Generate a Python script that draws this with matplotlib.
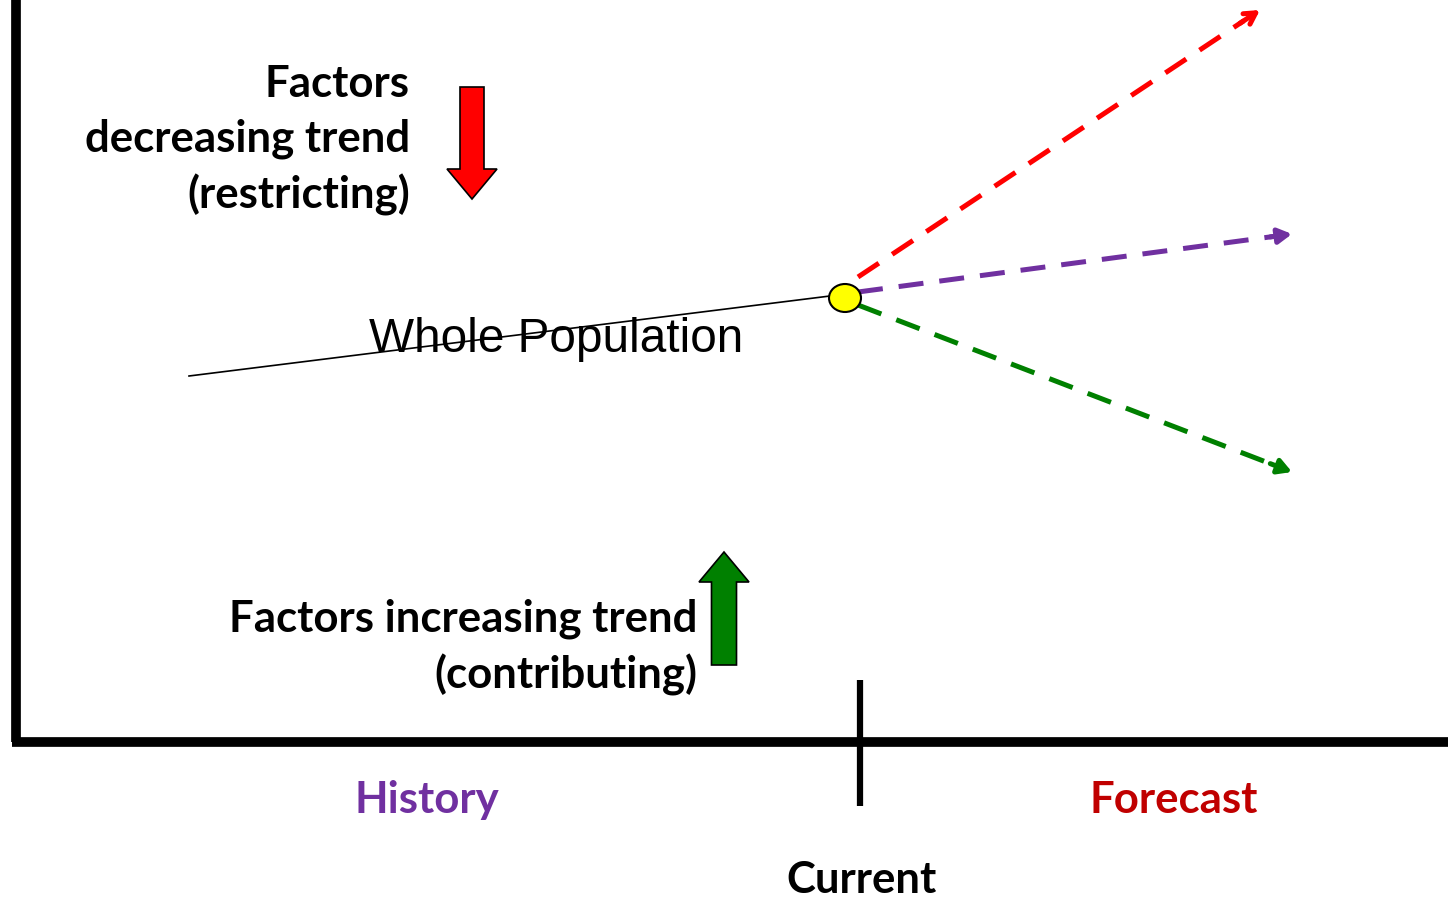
import matplotlib.pyplot as plt
from matplotlib.patches import Ellipse, FancyArrow

# canvas in pixel units (y downwards)
W, H = 1448, 898

# trend lines
hist_x = [189, 830]
hist_y = [376, 296]
current_pt = (845, 298)
fc_names = ['up', 'flat', 'down']
fc_start_x = [858, 858, 858]
fc_start_y = [277, 292, 305]
fc_end_x = [1260, 1292, 1292]
fc_end_y = [10, 234, 472]
fc_colors = ['#FF0000', '#7030A0', '#008000']
fc_heads = ['->', '-|>', '-|>']

fig = plt.figure(figsize=(W / 100, H / 100), dpi=100)
ax = fig.add_axes([0, 0, 1, 1])
ax.set_xlim(0, W)
ax.set_ylim(H, 0)
ax.axis('off')

bold = dict(family=['Lato', 'DejaVu Sans'], weight='bold', fontsize=31.5)

# axes of the diagram
ax.plot([16, 16], [0, 742], color='black', lw=7, solid_capstyle='butt')
ax.plot([12, W], [742, 742], color='black', lw=7, solid_capstyle='butt')
ax.plot([860, 860], [680, 806], color='black', lw=4.5, solid_capstyle='butt')

# history line
ax.plot(hist_x, hist_y, color='black', lw=1.2)

# forecasts
for i in range(3):
    x0, y0, x1, y1 = fc_start_x[i], fc_start_y[i], fc_end_x[i], fc_end_y[i]
    f = 0.96
    xm, ym = x0 + (x1 - x0) * f, y0 + (y1 - y0) * f
    ax.plot([x0, xm], [y0, ym], color=fc_colors[i], lw=3.6, ls=(0, (5, 3.2)))
    ax.annotate('', xy=(x1, y1), xytext=(xm - (x1 - x0) * 0.01, ym - (y1 - y0) * 0.01),
                arrowprops=dict(arrowstyle=fc_heads[i] + ',head_length=0.8,head_width=0.45',
                                color=fc_colors[i], lw=3.6, shrinkA=0, shrinkB=0))

ax.add_patch(Ellipse(current_pt, 32, 28, facecolor='#FFFF00', edgecolor='black', lw=1.5, zorder=5))

# factor arrows
ax.add_patch(FancyArrow(472, 87, 0, 112, width=24, head_width=50, head_length=30,
                        length_includes_head=True, facecolor='#FF0000', edgecolor='black', lw=1.2))
ax.add_patch(FancyArrow(724, 665, 0, -113, width=25, head_width=50, head_length=30,
                        length_includes_head=True, facecolor='#008000', edgecolor='black', lw=1.2))

# labels
ax.text(410, 140, 'Factors\ndecreasing trend\n(restricting)', ha='right', va='center',
        linespacing=1.42, **bold)
ax.text(697, 647, 'Factors increasing trend\n(contributing)', ha='right', va='center',
        linespacing=1.42, **bold)
ax.text(556, 340, 'Whole Population', ha='center', va='center',
        family=['Liberation Sans'], fontsize=34.4)
ax.text(427, 800, 'History', ha='center', va='center', color='#7030A0', **bold)
ax.text(1174, 800, 'Forecast', ha='center', va='center', color='#C00000', **bold)
ax.text(862, 880, 'Current', ha='center', va='center', color='black', **bold)

fig.savefig('out.png', dpi=100)
